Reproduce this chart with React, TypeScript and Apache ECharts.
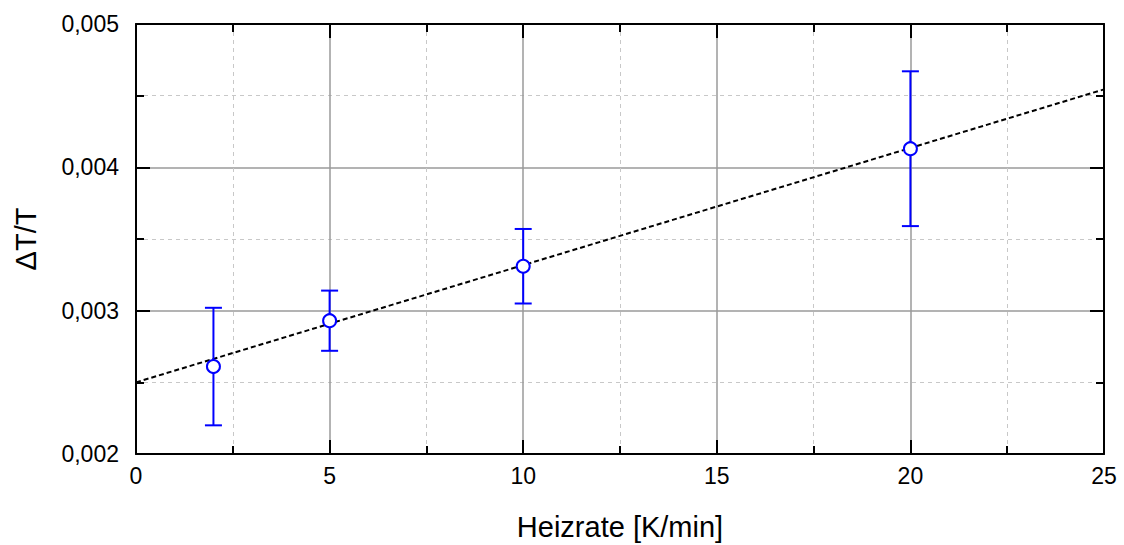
import React, { useEffect, useRef } from "react";
import * as echarts from "echarts";

// Heating rates [K/min] and measured relative peak shift ΔT/T with uncertainty
const heatingRates = [2, 5, 10, 20];
const deltaTRatio = [0.00261, 0.00293, 0.00331, 0.00413];
const deltaTError = [0.00041, 0.00021, 0.00026, 0.00054];

// Linear fit, given by its two end points
const fitX = [0, 25];
const fitY = [0.0025, 0.004544];

const FONT = "'Liberation Sans', Arial, Helvetica, sans-serif";
const BLUE = "#0000ff";

export default function App() {
  const ref = useRef<HTMLDivElement>(null);

  useEffect(() => {
    if (!ref.current) return;
    const chart = echarts.init(ref.current, undefined, { renderer: "svg" });

    const tickStyle = { color: "#000", width: 2 };
    const frameLine = { show: true, onZero: false, lineStyle: { color: "#000", width: 2 } };
    const majorGrid = { show: true, lineStyle: { color: "#9a9a9a", width: 1.5, type: "solid" as const } };
    const minorGrid = { show: true, lineStyle: { color: "#c8c8c8", width: 1, type: [4, 4] as any } };

    const xCommon = { type: "value" as const, min: 0, max: 25, interval: 5 };
    const yCommon = { type: "value" as const, min: 0.002, max: 0.005, interval: 0.001 };

    chart.setOption({
      animation: false,
      backgroundColor: "#fff",
      grid: {
        left: 136,
        right: 20,
        top: 24,
        bottom: 91,
        containLabel: false,
        outerBoundsMode: "none",
      } as any,
      xAxis: [
        {
          ...xCommon,
          position: "bottom",
          name: "Heizrate [K/min]",
          nameLocation: "middle",
          nameGap: 58,
          nameMoveOverlap: false,
          nameTextStyle: { fontSize: 29, color: "#000", fontFamily: FONT },
          axisLine: frameLine,
          axisTick: { show: true, inside: true, length: 14, lineStyle: tickStyle },
          minorTick: { show: true, splitNumber: 2, length: 8, lineStyle: tickStyle },
          axisLabel: { fontSize: 23, color: "#000", fontFamily: FONT, margin: 10 },
          splitLine: majorGrid,
          minorSplitLine: minorGrid,
        },
        {
          ...xCommon,
          position: "top",
          axisLine: frameLine,
          axisTick: { show: true, inside: true, length: 14, lineStyle: tickStyle },
          minorTick: { show: true, splitNumber: 2, length: 8, lineStyle: tickStyle },
          axisLabel: { show: false },
          splitLine: { show: false },
        },
      ],
      yAxis: [
        {
          ...yCommon,
          position: "left",
          name: "ΔT/T",
          nameLocation: "middle",
          nameGap: 96,
          nameMoveOverlap: false,
          nameTextStyle: { fontSize: 29, color: "#000", fontFamily: FONT },
          axisLine: frameLine,
          axisTick: { show: true, inside: true, length: 14, lineStyle: tickStyle },
          minorTick: { show: true, splitNumber: 2, length: 8, lineStyle: tickStyle },
          axisLabel: {
            fontSize: 23,
            color: "#000",
            fontFamily: FONT,
            margin: 17,
            formatter: (v: number) => v.toFixed(3).replace(".", ","),
          },
          splitLine: majorGrid,
          minorSplitLine: minorGrid,
        },
        {
          ...yCommon,
          position: "right",
          axisLine: frameLine,
          axisTick: { show: true, inside: true, length: 14, lineStyle: tickStyle },
          minorTick: { show: true, splitNumber: 2, length: 8, lineStyle: tickStyle },
          axisLabel: { show: false },
          splitLine: { show: false },
        },
      ],
      series: [
        {
          type: "line",
          data: fitX.map((x, i) => [x, fitY[i]]),
          showSymbol: false,
          symbol: "none",
          lineStyle: { color: "#000", width: 2, type: [5, 3] as any },
          z: 2,
          silent: true,
        },
        {
          type: "custom",
          z: 3,
          data: heatingRates.map((x, i) => [x, deltaTRatio[i], deltaTError[i]]),
          renderItem: (params: any, api: any) => {
            const x = api.value(0);
            const y = api.value(1);
            const e = api.value(2);
            const hi = api.coord([x, y + e]);
            const lo = api.coord([x, y - e]);
            const half = 8.5;
            const style = { stroke: BLUE, lineWidth: 2 };
            return {
              type: "group",
              children: [
                { type: "line", shape: { x1: hi[0], y1: hi[1], x2: lo[0], y2: lo[1] }, style },
                { type: "line", shape: { x1: hi[0] - half, y1: hi[1], x2: hi[0] + half, y2: hi[1] }, style },
                { type: "line", shape: { x1: lo[0] - half, y1: lo[1], x2: lo[0] + half, y2: lo[1] }, style },
              ],
            };
          },
        },
        {
          type: "scatter",
          z: 4,
          data: heatingRates.map((x, i) => [x, deltaTRatio[i]]),
          symbol: "circle",
          symbolSize: 13,
          itemStyle: { color: "#fff", borderColor: BLUE, borderWidth: 2, opacity: 1 },
        },
      ],
    });

    return () => chart.dispose();
  }, []);

  return (
    <div
      ref={ref}
      style={{ position: "fixed", left: 0, top: 0, width: 1124, height: 545, background: "#fff" }}
    />
  );
}
